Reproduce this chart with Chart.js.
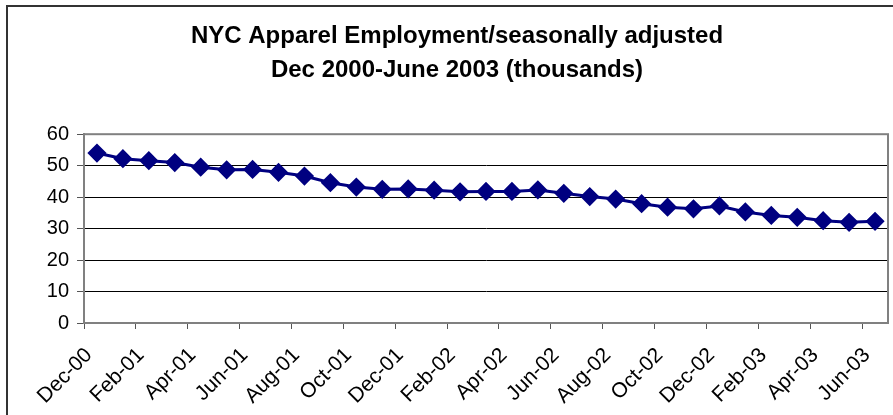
<!DOCTYPE html>
<html>
<head>
<meta charset="utf-8">
<script src="https://cdn.jsdelivr.net/npm/chart.js@4"></script>
<style>
  html, body { margin: 0; padding: 0; background: #fff; }
  #wrap { width: 893px; height: 415px; }
</style>
</head>
<body>
<div id="wrap"><canvas id="apparelChart"></canvas></div>
<script>
const months = ['Dec-00', 'Jan-01', 'Feb-01', 'Mar-01', 'Apr-01', 'May-01', 'Jun-01', 'Jul-01', 'Aug-01', 'Sep-01', 'Oct-01', 'Nov-01',
  'Dec-01', 'Jan-02', 'Feb-02', 'Mar-02', 'Apr-02', 'May-02', 'Jun-02', 'Jul-02', 'Aug-02', 'Sep-02', 'Oct-02', 'Nov-02',
  'Dec-02', 'Jan-03', 'Feb-03', 'Mar-03', 'Apr-03', 'May-03', 'Jun-03'];
const employment = [54.0, 52.2, 51.6, 51.0, 49.5, 48.7, 48.8, 47.9, 46.7, 44.6, 43.2, 42.5, 42.6, 42.2, 41.7, 41.8,
  41.8, 42.3, 41.2, 40.2, 39.4, 37.9, 36.8, 36.3, 37.2, 35.3, 34.2, 33.6, 32.5, 32.0, 32.3];
const titleLines = ['NYC Apparel Employment/seasonally adjusted', 'Dec 2000-June 2003 (thousands)'];

const FONT = 'Arial, "Liberation Sans", sans-serif';

// outer frame + gray plot-area frame, like the excel chart
const frames = {
  id: 'frames',
  afterDraw(chart) {
    const ctx = chart.ctx;
    const a = chart.chartArea;
    ctx.save();
    ctx.strokeStyle = '#808080';
    ctx.lineWidth = 2;
    ctx.strokeRect(a.left, a.top, a.right - a.left, a.bottom - a.top);
    ctx.strokeStyle = '#333';
    ctx.lineWidth = 2;
    ctx.strokeRect(7, 6, 900, 420);
    ctx.restore();
  }
};

new Chart(document.getElementById('apparelChart'), {
  type: 'line',
  data: {
    labels: months,
    datasets: [{
      label: 'Employment',
      data: employment,
      borderColor: '#000080',
      backgroundColor: '#000080',
      borderWidth: 3,
      pointStyle: 'rectRot',
      pointRadius: 7.5,
      pointHoverRadius: 7.5,
      tension: 0
    }]
  },
  options: {
    responsive: true,
    maintainAspectRatio: false,
    animation: false,
    layout: { autoPadding: false, padding: { top: 4, left: 26, right: 5, bottom: 0 } },
    plugins: {
      legend: { display: false },
      tooltip: { enabled: false },
      title: {
        display: true,
        text: titleLines,
        color: '#000',
        font: { family: FONT, size: 24, weight: 'bold', lineHeight: 1.4 },
        padding: { top: 16, bottom: 47 }
      }
    },
    scales: {
      x: {
        offset: true,
        grid: {
          offset: true,
          drawOnChartArea: false,
          tickLength: 6,
          tickColor: ctx => (ctx.index % 2 === 0 ? '#555' : 'rgba(0,0,0,0)')
        },
        border: { color: '#808080', width: 2 },
        ticks: {
          autoSkip: false,
          minRotation: 45,
          maxRotation: 45,
          padding: 14,
          labelOffset: -8,
          color: '#000',
          font: { family: FONT, size: 21 },
          callback: (v, i) => (i % 2 === 0 ? months[i] : '')
        },
        afterFit: s => {
          s.height = 92;
          s.paddingLeft = 0;
          s.paddingRight = 0;
        }
      },
      y: {
        min: 0,
        max: 60,
        grid: {
          color: ctx => (ctx.tick && (ctx.tick.value === 0 || ctx.tick.value === 60) ? 'rgba(0,0,0,0)' : '#000'),
          tickColor: '#555',
          tickLength: 7,
          lineWidth: 1
        },
        border: { color: '#808080', width: 2 },
        ticks: {
          stepSize: 10,
          padding: 8,
          color: '#000',
          font: { family: FONT, size: 20 }
        },
        afterFit: s => {
          s.width = 58;
          s.paddingTop = 0;
          s.paddingBottom = 0;
        }
      }
    }
  },
  plugins: [frames]
});
</script>
</body>
</html>
